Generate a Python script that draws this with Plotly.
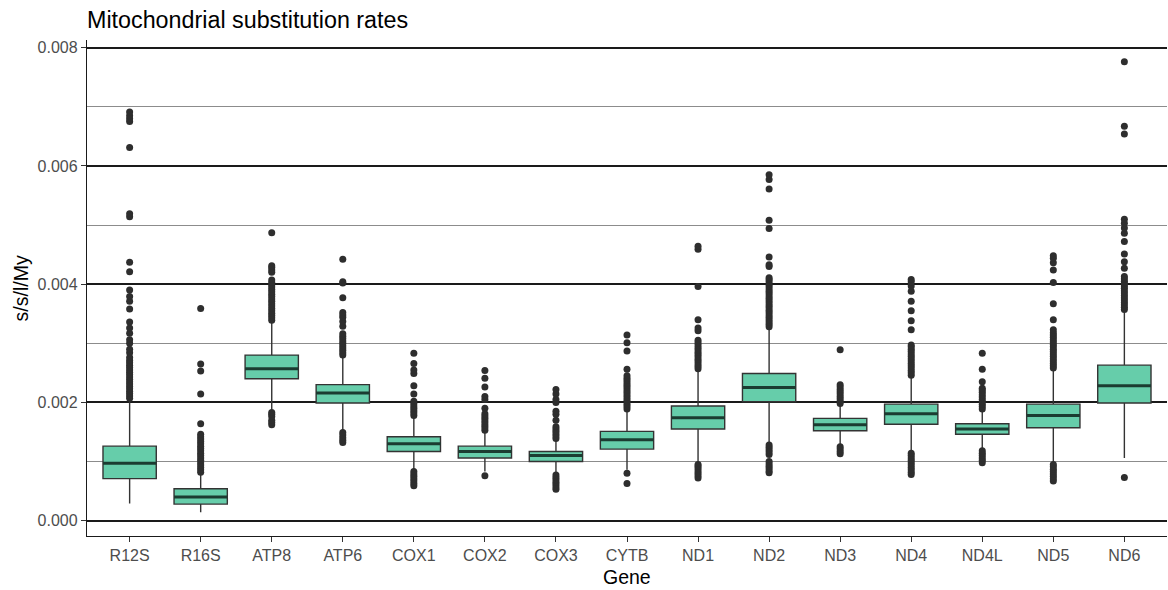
import plotly.graph_objects as go

# Genes on the x axis
genes = ["R12S", "R16S", "ATP8", "ATP6", "COX1", "COX2", "COX3", "CYTB",
         "ND1", "ND2", "ND3", "ND4", "ND4L", "ND5", "ND6"]

# Box statistics per gene (substitutions / site / lineage / My)
q1 = [0.00071, 0.00028, 0.00240, 0.00199, 0.00117, 0.00106, 0.00100, 0.00121,
      0.00155, 0.00201, 0.00152, 0.00163, 0.00146, 0.00157, 0.00199]
median = [0.00097, 0.00040, 0.00257, 0.00216, 0.00130, 0.00117, 0.00110, 0.00137,
          0.00174, 0.00225, 0.00162, 0.00181, 0.00155, 0.00178, 0.00228]
q3 = [0.00126, 0.00054, 0.00280, 0.00230, 0.00142, 0.00126, 0.00117, 0.00151,
      0.00194, 0.00249, 0.00173, 0.00197, 0.00164, 0.00197, 0.00263]
whisker_low = [0.00029, 0.00014, 0.00188, 0.00153, 0.00086, 0.00083, 0.00079, 0.00086,
               0.00097, 0.00131, 0.00128, 0.00117, 0.00121, 0.00098, 0.00106]
whisker_high = [0.00204, 0.00080, 0.00337, 0.00278, 0.00176, 0.00151, 0.00137, 0.00187,
                0.00255, 0.00326, 0.00196, 0.00244, 0.00187, 0.00256, 0.00355]

# Outlying observations per gene
outliers_R12S = [0.00207, 0.00211, 0.00215, 0.00219, 0.00223, 0.00227, 0.00231, 0.00235,
                 0.00239, 0.00243, 0.00247, 0.00251, 0.00255, 0.00259, 0.00263, 0.00267,
                 0.00271, 0.00276, 0.00284, 0.00290, 0.00300, 0.00306, 0.00317, 0.00326,
                 0.00336, 0.00358, 0.00371, 0.00379, 0.00390, 0.00421, 0.00437, 0.00514,
                 0.00519, 0.00631, 0.00675, 0.00680, 0.00685, 0.00691]
outliers_R16S = [0.00082, 0.00086, 0.00090, 0.00094, 0.00098, 0.00102, 0.00106, 0.00110,
                 0.00114, 0.00118, 0.00122, 0.00126, 0.00130, 0.00134, 0.00138, 0.00142,
                 0.00146, 0.00164, 0.00214, 0.00253, 0.00265, 0.00359]
outliers_ATP8 = [0.00162, 0.00166, 0.00170, 0.00176, 0.00180, 0.00183,
                 0.00339, 0.00343, 0.00347, 0.00351, 0.00355, 0.00359, 0.00363, 0.00367,
                 0.00371, 0.00375, 0.00379, 0.00383, 0.00387, 0.00391, 0.00395, 0.00399,
                 0.00403, 0.00407, 0.00420, 0.00424, 0.00428, 0.00431, 0.00487]
outliers_ATP6 = [0.00132, 0.00136, 0.00140, 0.00145, 0.00149,
                 0.00280, 0.00284, 0.00288, 0.00292, 0.00296, 0.00300, 0.00304, 0.00308,
                 0.00312, 0.00316, 0.00329, 0.00337, 0.00344, 0.00348, 0.00352, 0.00377,
                 0.00402, 0.00404, 0.00442]
outliers_COX1 = [0.00059, 0.00063, 0.00067, 0.00071, 0.00075, 0.00079, 0.00083,
                 0.00178, 0.00182, 0.00186, 0.00190, 0.00194, 0.00198, 0.00202, 0.00214,
                 0.00228, 0.00249, 0.00255, 0.00266, 0.00283]
outliers_COX2 = [0.00076,
                 0.00153, 0.00157, 0.00161, 0.00165, 0.00169, 0.00173, 0.00177, 0.00181,
                 0.00190, 0.00205, 0.00210, 0.00226, 0.00241, 0.00254]
outliers_COX3 = [0.00053, 0.00057, 0.00061, 0.00065, 0.00069, 0.00073, 0.00077,
                 0.00139, 0.00143, 0.00147, 0.00151, 0.00155, 0.00159, 0.00170, 0.00180,
                 0.00185, 0.00200, 0.00205, 0.00214, 0.00222]
outliers_CYTB = [0.00063, 0.00080,
                 0.00189, 0.00193, 0.00197, 0.00201, 0.00205, 0.00209, 0.00213, 0.00217,
                 0.00221, 0.00225, 0.00229, 0.00233, 0.00237, 0.00241, 0.00245, 0.00256,
                 0.00287, 0.00301, 0.00314]
outliers_ND1 = [0.00072, 0.00076, 0.00080, 0.00084, 0.00088, 0.00092, 0.00095,
                0.00257, 0.00261, 0.00265, 0.00269, 0.00273, 0.00277, 0.00281, 0.00285,
                0.00289, 0.00293, 0.00297, 0.00301, 0.00305, 0.00321, 0.00326, 0.00340,
                0.00396, 0.00459, 0.00464]
outliers_ND2 = [0.00081, 0.00084, 0.00088, 0.00092, 0.00096, 0.00100,
                0.00112, 0.00116, 0.00120, 0.00124, 0.00128,
                0.00328, 0.00332, 0.00336, 0.00340, 0.00344, 0.00348, 0.00352, 0.00356,
                0.00360, 0.00364, 0.00368, 0.00372, 0.00376, 0.00380, 0.00384, 0.00388,
                0.00392, 0.00396, 0.00400, 0.00404, 0.00408, 0.00411, 0.00430, 0.00433,
                0.00446, 0.00494, 0.00508, 0.00561, 0.00577, 0.00585]
outliers_ND3 = [0.00113, 0.00117, 0.00121, 0.00125,
                0.00198, 0.00202, 0.00206, 0.00210, 0.00214, 0.00218, 0.00222, 0.00226,
                0.00230, 0.00289]
outliers_ND4 = [0.00078, 0.00082, 0.00086, 0.00090, 0.00094, 0.00098, 0.00102, 0.00106,
                0.00110, 0.00114,
                0.00246, 0.00250, 0.00254, 0.00258, 0.00262, 0.00266, 0.00270, 0.00274,
                0.00278, 0.00282, 0.00286, 0.00290, 0.00294, 0.00297, 0.00323, 0.00338,
                0.00355, 0.00371, 0.00388, 0.00397, 0.00404, 0.00408]
outliers_ND4L = [0.00098, 0.00102, 0.00106, 0.00110, 0.00114, 0.00118,
                 0.00189, 0.00193, 0.00197, 0.00201, 0.00205, 0.00209, 0.00213, 0.00217,
                 0.00221, 0.00224, 0.00235, 0.00256, 0.00283]
outliers_ND5 = [0.00067, 0.00071, 0.00075, 0.00079, 0.00083, 0.00087, 0.00091, 0.00095,
                0.00258, 0.00262, 0.00266, 0.00270, 0.00274, 0.00278, 0.00282, 0.00286,
                0.00290, 0.00294, 0.00298, 0.00302, 0.00306, 0.00310, 0.00314, 0.00318,
                0.00323, 0.00340, 0.00367, 0.00403, 0.00424, 0.00436, 0.00444, 0.00448]
outliers_ND6 = [0.00073,
                0.00357, 0.00361, 0.00365, 0.00369, 0.00373, 0.00377, 0.00381, 0.00385,
                0.00389, 0.00393, 0.00397, 0.00401, 0.00405, 0.00409, 0.00413, 0.00427,
                0.00438, 0.00451, 0.00472, 0.00486, 0.00495, 0.00503, 0.00510, 0.00654,
                0.00667, 0.00776]

outliers = [outliers_R12S, outliers_R16S, outliers_ATP8, outliers_ATP6, outliers_COX1,
            outliers_COX2, outliers_COX3, outliers_CYTB, outliers_ND1, outliers_ND2,
            outliers_ND3, outliers_ND4, outliers_ND4L, outliers_ND5, outliers_ND6]

y_ticks = [0.000, 0.002, 0.004, 0.006, 0.008]
y_tick_labels = ["0.000", "0.002", "0.004", "0.006", "0.008"]

FONT = "Liberation Sans, Arial, sans-serif"
BOX_WIDTH = 0.75
FILL = "#66CDAA"
EDGE = "#333333"

positions = list(range(len(genes)))

fig = go.Figure()

# Boxes with whiskers
fig.add_trace(go.Box(
    x=positions, q1=q1, median=median, q3=q3,
    lowerfence=whisker_low, upperfence=whisker_high,
    width=BOX_WIDTH, whiskerwidth=0, boxpoints=False,
    fillcolor=FILL, line=dict(color=EDGE, width=1.4),
    hoverinfo="skip", showlegend=False,
))

# Thicker median bars drawn over each box
med_x, med_y = [], []
for pos, m in zip(positions, median):
    med_x += [pos - BOX_WIDTH / 2, pos + BOX_WIDTH / 2, None]
    med_y += [m, m, None]
fig.add_trace(go.Scatter(
    x=med_x, y=med_y, mode="lines",
    line=dict(color="#1b3c31", width=3),
    hoverinfo="skip", showlegend=False,
))

# Outlier points
out_x, out_y = [], []
for pos, vals in zip(positions, outliers):
    out_x += [pos] * len(vals)
    out_y += vals
fig.add_trace(go.Scatter(
    x=out_x, y=out_y, mode="markers",
    marker=dict(color="#2e2e2e", size=7, line=dict(width=0)),
    hoverinfo="skip", showlegend=False,
))

fig.update_layout(
    width=1168, height=590,
    margin=dict(l=87, r=1, t=40, b=54),
    paper_bgcolor="white", plot_bgcolor="white",
    font=dict(family=FONT, color="#4d4d4d"),
    title=dict(
        text="Mitochondrial substitution rates",
        x=0, xref="paper", xanchor="left",
        y=1 - 20 / 590, yref="container", yanchor="middle",
        font=dict(family=FONT, size=23.3, color="black"),
    ),
    xaxis=dict(
        range=[-0.6, len(genes) - 0.4],
        tickmode="array", tickvals=positions, ticktext=genes,
        showgrid=False, zeroline=False,
        showline=True, linecolor="#1a1a1a", linewidth=1.4,
        ticks="outside", ticklen=5, tickwidth=1.2, tickcolor="#333333",
        tickfont=dict(family=FONT, size=16, color="#4d4d4d"),
    ),
    yaxis=dict(
        range=[-0.00026, 0.00813],
        tickmode="array", tickvals=y_ticks, ticktext=y_tick_labels,
        showgrid=True, gridcolor="#1a1a1a", gridwidth=1.5,
        minor=dict(dtick=0.001, tick0=0, showgrid=True,
                   gridcolor="#8c8c8c", gridwidth=1.2),
        zeroline=False,
        showline=True, linecolor="#1a1a1a", linewidth=1.4,
        ticks="outside", ticklen=5, tickwidth=1.2, tickcolor="#333333",
        tickfont=dict(family=FONT, size=16, color="#4d4d4d"),
    ),
    annotations=[
        dict(text="Gene", xref="paper", yref="paper",
             x=0.5, y=-41 / 496, xanchor="center", yanchor="middle",
             showarrow=False, font=dict(family=FONT, size=19.5, color="black")),
        dict(text="s/s/l/My", xref="paper", yref="paper",
             x=-65.6 / 1080, y=0.5, xanchor="center", yanchor="middle",
             textangle=-90, showarrow=False,
             font=dict(family=FONT, size=19.5, color="black")),
    ],
)

fig.write_html("out.html")
